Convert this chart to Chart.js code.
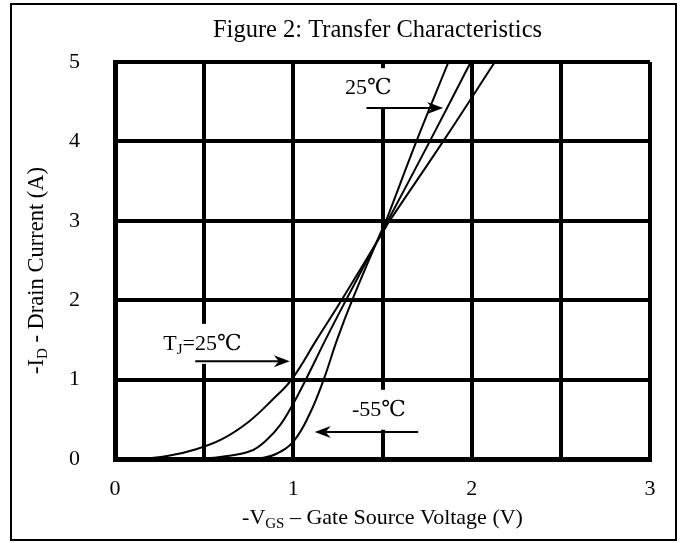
<!DOCTYPE html>
<html>
<head>
<meta charset="utf-8">
<title>Figure 2: Transfer Characteristics</title>
<script src="https://cdn.jsdelivr.net/npm/chart.js@4.4.1/dist/chart.umd.min.js"></script>
<style>
  html, body { margin: 0; padding: 0; background: #fff; }
</style>
</head>
<body>
<canvas id="chart" width="681" height="543"></canvas>
<script>
// -VGS (V) and -ID (A)
const hotVgs  = [0.15, 0.30, 0.45, 0.60, 0.75, 0.88, 0.99, 1.13, 1.27, 1.50, 1.54, 1.84, 2.13];
const hotId   = [0.00, 0.04, 0.12, 0.25, 0.47, 0.74, 1.00, 1.50, 2.00, 2.85, 3.00, 4.00, 5.00];
const roomVgs = [0.45, 0.60, 0.76, 0.85, 0.93, 1.00, 1.07, 1.18, 1.295, 1.495, 1.53, 1.765, 1.995];
const roomId  = [0.00, 0.03, 0.10, 0.24, 0.44, 0.70, 1.00, 1.50, 2.00,  2.85,  3.00, 4.00,  5.00];
const coldVgs = [0.80, 0.90, 1.00, 1.09, 1.17, 1.245, 1.33, 1.49, 1.52, 1.69, 1.87];
const coldId  = [0.00, 0.06, 0.22, 0.56, 1.00, 1.50,  2.00, 2.85, 3.00, 4.00, 5.00];

const xMin = 0, xMax = 3, xGridStep = 0.5;
const yMin = 0, yMax = 5, yGridStep = 1;

const SERIF = "'Liberation Serif', 'DejaVu Serif', serif";

function points(xs, ys) {
	return xs.map((x, i) => ({ x: x, y: ys[i] }));
}

function curve(label, xs, ys) {
	return {
		label: label,
		data: points(xs, ys),
		showLine: true,
		borderColor: '#000',
		borderWidth: 2,
		pointRadius: 0,
		tension: 0.4
	};
}

// text pieces: [text, subscript?]
function richWidth(ctx, parts, size) {
	let w = 0;
	parts.forEach(p => {
		ctx.font = (p[1] ? Math.round(size * 0.68) : size) + 'px ' + SERIF;
		w += ctx.measureText(p[0]).width;
	});
	return w;
}

function drawRich(ctx, parts, cx, cy, size) {
	let x = cx - richWidth(ctx, parts, size) / 2;
	ctx.textBaseline = 'middle';
	ctx.textAlign = 'left';
	ctx.fillStyle = '#000';
	parts.forEach(p => {
		const s = p[1] ? Math.round(size * 0.68) : size;
		ctx.font = s + 'px ' + SERIF;
		ctx.fillText(p[0], x, p[1] ? cy + size * 0.28 : cy);
		x += ctx.measureText(p[0]).width;
	});
}

function arrow(ctx, x1, y1, x2, y2) {
	const dir = Math.sign(x2 - x1);
	ctx.strokeStyle = '#000';
	ctx.fillStyle = '#000';
	ctx.lineWidth = 2;
	ctx.beginPath();
	ctx.moveTo(x1, y1);
	ctx.lineTo(x2 - dir * 10, y2);
	ctx.stroke();
	ctx.beginPath();
	ctx.moveTo(x2, y2);
	ctx.lineTo(x2 - dir * 16, y2 - 6);
	ctx.lineTo(x2 - dir * 11, y2);
	ctx.lineTo(x2 - dir * 16, y2 + 6);
	ctx.closePath();
	ctx.fill();
}

// curve call-outs, in axis units
const callouts = [
	{ parts: [['25℃', false]], x: 1.42, y: 4.67, from: [1.41, 4.42], to: [1.84, 4.42] },
	{ parts: [['T', false], ['J', true], ['=25℃', false]], x: 0.49, y: 1.45, from: [0.45, 1.23], to: [0.98, 1.23] },
	{ parts: [['-55℃', false]], x: 1.48, y: 0.62, from: [1.70, 0.34], to: [1.12, 0.34] }
];

const figurePlugin = {
	id: 'figure',
	beforeDraw(chart) {
		const ctx = chart.ctx;
		ctx.save();
		ctx.fillStyle = '#fff';
		ctx.fillRect(0, 0, chart.width, chart.height);
		ctx.restore();
	},
	afterDatasetsDraw(chart) {
		const ctx = chart.ctx;
		const xs = chart.scales.x, ys = chart.scales.y;
		ctx.save();
		callouts.forEach(c => {
			const px = xs.getPixelForValue(c.x), py = ys.getPixelForValue(c.y);
			const w = richWidth(ctx, c.parts, 22);
			ctx.fillStyle = '#fff';
			ctx.fillRect(px - w / 2 - 4, py - 20, w + 8, 40);
			drawRich(ctx, c.parts, px, py, 22);
			arrow(ctx, xs.getPixelForValue(c.from[0]), ys.getPixelForValue(c.from[1]),
				xs.getPixelForValue(c.to[0]), ys.getPixelForValue(c.to[1]));
		});
		ctx.restore();
	},
	afterDraw(chart) {
		const ctx = chart.ctx;
		const area = chart.chartArea;
		const mid = (area.left + area.right) / 2;
		ctx.save();
		// outer frame
		ctx.strokeStyle = '#000';
		ctx.lineWidth = 2;
		ctx.strokeRect(11, 4, 665, 536);
		drawRich(ctx, [['Figure 2: Transfer Characteristics', false]], mid - 5, 31, 24.5);
		drawRich(ctx, [['-V', false], ['GS', true], [' \u2013 Gate Source Voltage (V)', false]], mid, 518, 22);
		ctx.translate(37, (area.top + area.bottom) / 2 + 10);
		ctx.rotate(-Math.PI / 2);
		drawRich(ctx, [['-I', false], ['D', true], [' - Drain Current (A)', false]], 0, 0, 22.5);
		ctx.restore();
	}
};

const tickFont = { family: SERIF, size: 22 };

new Chart(document.getElementById('chart'), {
	type: 'scatter',
	data: {
		datasets: [
			curve('125℃', hotVgs, hotId),
			curve('25℃', roomVgs, roomId),
			curve('-55℃', coldVgs, coldId)
		]
	},
	options: {
		responsive: false,
		animation: false,
		events: [],
		layout: { padding: { left: 0, right: 31, top: 62, bottom: 0 } },
		plugins: {
			legend: { display: false },
			tooltip: { enabled: false }
		},
		scales: {
			x: {
				type: 'linear',
				min: xMin,
				max: xMax,
				afterFit(scale) { scale.height = 84; },
				grid: { color: '#000', lineWidth: 4, drawTicks: false },
				border: { display: true, color: '#000', width: 5 },
				ticks: {
					stepSize: xGridStep,
					autoSkip: false,
					maxRotation: 0,
					padding: 17,
					color: '#000',
					font: tickFont,
					callback: v => Number.isInteger(v) ? String(v) : ''
				}
			},
			y: {
				type: 'linear',
				min: yMin,
				max: yMax,
				afterFit(scale) { scale.width = 115; },
				grid: { color: '#000', lineWidth: 4, drawTicks: false },
				border: { display: true, color: '#000', width: 5 },
				ticks: {
					stepSize: yGridStep,
					padding: 35,
					color: '#000',
					font: tickFont
				}
			}
		}
	},
	plugins: [figurePlugin]
});
</script>
</body>
</html>
